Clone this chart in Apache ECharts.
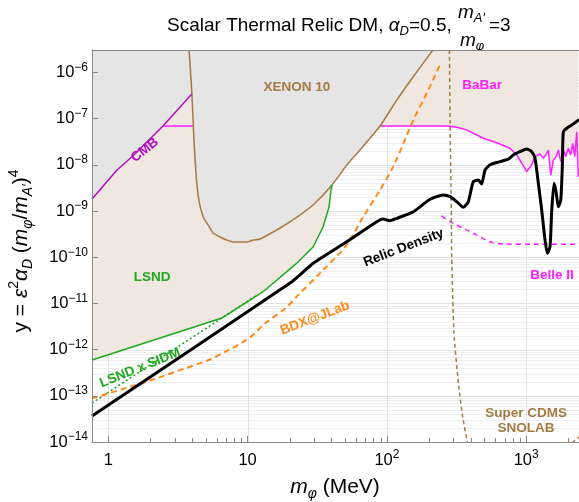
<!DOCTYPE html>
<html>
<head>
<meta charset="utf-8">
<script src="https://cdn.jsdelivr.net/npm/echarts@6/dist/echarts.min.js"></script>
<style>
  html, body { margin: 0; padding: 0; background: #fff; }
  #chart { width: 579px; height: 502px; }
</style>
</head>
<body>
<div id="chart"></div>
<script>
// all curves: [m_phi (MeV), y]
const xenon10 = [[3.8, 3.05e-6], [3.97, 4.16e-7], [4.12, 3.44e-8], [4.26, 6.65e-9], [4.43, 2.0e-9],
  [4.81, 7.4e-10], [5.37, 4.28e-10], [5.65, 3.34e-10], [6.34, 2.73e-10], [7.08, 2.35e-10],
  [7.86, 2.13e-10], [9.9, 2.13e-10], [11.0, 2.35e-10], [12.3, 2.48e-10], [17.1, 4.28e-10],
  [22.6, 7.4e-10], [29.5, 1.35e-9], [40.4, 3.66e-9], [51.7, 1.0e-8], [64.1, 2.09e-8],
  [89.2, 6.9e-8], [118, 2.53e-7], [154, 7.94e-7], [214, 3.05e-6]];
const cmb = [[0.764, 1.82e-9], [1.155, 7.7e-9], [1.5, 1.55e-8], [2.47, 6.9e-8], [3.98, 3.4e-7]];
const lsnd = [[0.764, 5.96e-13], [6.55, 4.83e-12], [8.68, 8.35e-12], [13.1, 1.85e-11], [19.8, 5.3e-11],
  [22.6, 7.48e-11], [29.5, 1.66e-10], [34.8, 4.5e-10], [38.4, 1.22e-9], [39.7, 2.85e-9], [40.4, 3.66e-9]];
const lsndSidm = [[0.764, 6.98e-14], [11.7, 1.52e-11]];
const bdx = [[0.764, 8.83e-14], [1.95, 2.09e-13], [3.57, 3.94e-13], [5.26, 5.96e-13], [6.92, 9.0e-13],
  [10.2, 1.76e-12], [13.4, 3.71e-12], [18.7, 7.83e-12], [22.5, 1.4e-11], [34.9, 5.3e-11],
  [51.4, 1.84e-10], [67.7, 7.54e-10], [89.2, 2.85e-9], [111, 9.1e-9], [155, 9.3e-8],
  [193, 3.53e-7], [240, 1.44e-6]];
const babar = [[2.47, 6.9e-8], [89.2, 6.9e-8], [204, 6.9e-8], [269, 6.9e-8], [317, 6.5e-8], [374, 5.7e-8],
  [492, 3.75e-8], [614, 3.0e-8], [765, 2.28e-8], [855, 1.63e-8], [929, 1.08e-8], [1009, 7.1e-9],
  [1095, 1.0e-8], [1157, 1.5e-8], [1256, 1.71e-8], [1327, 1.38e-8], [1404, 1.77e-8], [1442, 2.09e-8],
  [1500, 6.0e-9], [1566, 1.27e-8], [1638, 1.5e-8], [1700, 2.09e-8], [1770, 1.17e-8], [1847, 2.09e-8],
  [1921, 1.5e-8], [2006, 2.28e-8], [2087, 1.63e-8], [2159, 2.92e-8], [2230, 1.5e-8], [2305, 5.2e-8],
  [2366, 5.5e-9]];
const belle2 = [[247, 7.8e-10], [284, 5.86e-10], [353, 4.23e-10], [441, 3.03e-10], [550, 2.16e-10],
  [685, 1.93e-10], [1065, 1.9e-10], [2393, 1.9e-10]];
const superCdms = [[281, 3.05e-6], [284, 9.3e-8], [289, 2.45e-9], [292, 1.0e-10], [303, 2.29e-12],
  [326, 1.89e-13], [350, 3.47e-14], [378, 1e-14]];
const superCdmsRight = [[2130, 9.5e-15], [2393, 1.28e-14]];
const relic = [[0.764, 3.66e-14], [20.8, 2.95e-11], [29.6, 7.38e-11], [51.5, 2.16e-10], [84.5, 5.86e-10],
  [94.3, 6.7e-10], [105, 6.17e-10], [118, 6.95e-10], [155, 9.66e-10], [204, 1.79e-9], [254, 2.22e-9],
  [284, 2.04e-9], [317, 1.59e-9], [353, 1.2e-9], [384, 1.59e-9], [417, 4.3e-9], [453, 4.69e-9],
  [479, 3.84e-9], [506, 7.7e-9], [550, 1.0e-8], [648, 1.17e-8], [744, 1.32e-8], [807, 1.63e-8],
  [902, 1.92e-8], [1008, 2.2e-8], [1095, 1.92e-8], [1157, 1.38e-8], [1222, 3.98e-9], [1292, 1.05e-9],
  [1365, 2.35e-10], [1419, 1.21e-10], [1483, 1.69e-10], [1525, 1.05e-9], [1584, 3.98e-9],
  [1638, 2.62e-9], [1700, 1.24e-9], [1770, 1.73e-9], [1816, 9.1e-9], [1847, 5.2e-8], [1954, 6.17e-8],
  [2122, 7.26e-8], [2393, 9.5e-8]];

const xTicks = [1, 10, 100, 1000];
const xTickLabels = ['1', '10', '10^2', '10^3'];
const xMinorTicks = [2, 3, 4, 5, 6, 7, 8, 9, 20, 30, 40, 50, 60, 70, 80, 90,
  200, 300, 400, 500, 600, 700, 800, 900, 2000];
const yTickExps = [-14, -13, -12, -11, -10, -9, -8, -7, -6];
const minorMult = [2, 3, 4, 5, 6, 7, 8, 9];

const X_MIN = 0.764, X_MAX = 2393, Y_MIN = 1e-14, Y_MAX = 3.05e-6;
const FONT = 'Liberation Sans, Arial, sans-serif';
const C_BROWN = '#a57a45', C_PURPLE = '#b00fbe', C_MAG = '#ff1eff', C_GREEN = '#1fa81f', C_ORANGE = '#ff8a1c';

const annotations = [
  { text: 'CMB', x: 1.83, y: 2.09e-8, rot: 38, color: C_PURPLE },
  { text: 'XENON 10', x: 22.6, y: 4.83e-7, rot: 0, color: C_BROWN },
  { text: 'BaBar', x: 482, y: 5.33e-7, rot: 0, color: C_MAG },
  { text: 'LSND', x: 2.06, y: 3.72e-11, rot: 0, color: C_GREEN },
  { text: 'LSND x SIDM', x: 1.69, y: 4.0e-13, rot: 22, color: C_GREEN },
  { text: 'BDX@JLab', x: 30.5, y: 4.8e-12, rot: 21, color: C_ORANGE },
  { text: 'Relic Density', x: 132, y: 1.6e-10, rot: 21, color: '#000' },
  { text: 'Belle II', x: 1530, y: 4.12e-11, rot: 0, color: C_MAG },
  { text: 'Super CDMS\nSNOLAB', x: 998, y: 2.85e-14, rot: 0, color: C_BROWN }
];

// fill boundaries built from the curves
const grayEdge = cmb.concat(xenon10.filter(p => p[0] > cmb[cmb.length - 1][0]));
const beigeEdge = lsnd
  .concat(xenon10.filter(p => p[0] > 40.4 && p[0] < 89.2))
  .concat(babar.filter(p => p[0] >= 89.2));

const yMajor = yTickExps.map(e => Math.pow(10, e));
const yMinor = [];
yTickExps.forEach(e => {
  if (e < -6) minorMult.forEach(m => yMinor.push(m * Math.pow(10, e)));
});

function supLabel(s) {
  const parts = s.split('^');
  return parts.length > 1 ? '{b|' + parts[0] + '}{s|' + parts[1] + '}' : '{b|' + s + '}';
}
const tickRich = {
  b: { fontSize: 16.5, fontFamily: FONT, color: '#000', lineHeight: 22 },
  s: { fontSize: 12, fontFamily: FONT, color: '#000', verticalAlign: 'top', lineHeight: 13 }
};

function hGrid(color) {
  return function (params, api) {
    const cs = params.coordSys;
    const p = api.coord([X_MIN, api.value(1)]);
    const y = Math.round(p[1]) + 0.5;
    return { type: 'line', shape: { x1: cs.x, y1: y, x2: cs.x + cs.width, y2: y },
      style: { stroke: color, lineWidth: 1 } };
  };
}
function lineSeries(data, color, width, type, z, smooth) {
  return { type: 'line', data: data, symbol: 'none', silent: true, z: z || 4, smooth: smooth || false,
    lineStyle: { color: color, width: width, type: type || 'solid' } };
}
function areaSeries(data, color, z, smooth) {
  return { type: 'line', data: data, symbol: 'none', silent: true, z: z, smooth: smooth || false,
    lineStyle: { width: 0 }, areaStyle: { color: color, opacity: 1, origin: 'end' } };
}

const titleRich = {
  n: { fontSize: 19, fontFamily: FONT, color: '#000', lineHeight: 24 },
  i: { fontSize: 19, fontFamily: FONT, fontStyle: 'italic', color: '#000', lineHeight: 24 },
  sub: { fontSize: 13, fontFamily: FONT, fontStyle: 'italic', color: '#000', verticalAlign: 'bottom', lineHeight: 14 }
};
const nameRich = {
  n: { fontSize: 21, fontFamily: FONT, color: '#000', lineHeight: 28 },
  i: { fontSize: 21, fontFamily: FONT, fontStyle: 'italic', color: '#000', lineHeight: 28 },
  sup: { fontSize: 14, fontFamily: FONT, color: '#000', verticalAlign: 'top', lineHeight: 15 },
  sub: { fontSize: 14, fontFamily: FONT, fontStyle: 'italic', color: '#000', verticalAlign: 'bottom', lineHeight: 15 }
};

const chart = echarts.init(document.getElementById('chart'));
chart.setOption({
  animation: false,
  backgroundColor: '#fff',
  grid: { left: 92, right: 0, top: 50, bottom: 60 },
  xAxis: [{
    type: 'log', min: X_MIN, max: X_MAX, z: 10,
    axisLine: { lineStyle: { color: '#888', width: 1 } },
    axisTick: { inside: true, length: 6, lineStyle: { color: '#888' } },
    splitLine: { show: false },
    axisLabel: {
      showMinLabel: false, showMaxLabel: false, margin: 7, rich: tickRich,
      formatter: v => {
        const k = xTicks.indexOf(Math.round(v));
        return k >= 0 ? supLabel(xTickLabels[k]) : '';
      }
    }
  }, {
    type: 'log', min: X_MIN, max: X_MAX, position: 'top', z: 10,
    axisLine: { lineStyle: { color: '#888', width: 1 } },
    axisTick: { show: false }, axisLabel: { show: false }, splitLine: { show: false }
  }],
  yAxis: {
    type: 'log', min: Y_MIN, max: Y_MAX, z: 10,
    axisLine: { lineStyle: { color: '#888', width: 1 } },
    axisTick: { inside: true, length: 6, lineStyle: { color: '#888' } },
    splitLine: { show: false },
    axisLabel: {
      showMinLabel: true, showMaxLabel: false, margin: 4, rich: tickRich,
      formatter: v => {
        const e = Math.round(Math.log10(v));
        return yTickExps.indexOf(e) >= 0 ? supLabel('10^−' + (-e)) : '';
      }
    }
  },
  graphic: [
    { type: 'text', x: 167, y: 26, style: { text: '{n|Scalar Thermal Relic DM, }{i|α}{sub|D}{n|=0.5,}', rich: titleRich, align: 'left', verticalAlign: 'middle' } },
    { type: 'text', x: 458, y: 13, style: { text: '{i|m}{sub|A′}', rich: titleRich, align: 'left', verticalAlign: 'middle' } },
    { type: 'text', x: 460, y: 41, style: { text: '{i|m}{sub|φ}', rich: titleRich, align: 'left', verticalAlign: 'middle' } },
    { type: 'text', x: 489, y: 26, style: { text: '{n|=3}', rich: titleRich, align: 'left', verticalAlign: 'middle' } },
    { type: 'text', x: 335, y: 487, style: { text: '{i|m}{sub|φ}{n| (MeV)}', rich: nameRich, align: 'center', verticalAlign: 'middle' } },
    { type: 'text', x: 21, y: 251, rotation: Math.PI / 2,
      style: { text: '{n|y = }{i|ε}{sup|2}{i|α}{sub|D}{n| (}{i|m}{sub|φ}{n|/}{i|m}{sub|A′}{n|)}{sup|4}', rich: nameRich, align: 'center', verticalAlign: 'middle' } }
  ],
  series: [
    { type: 'custom', silent: true, z: 0, data: yMinor.map(v => [X_MIN, v]), renderItem: hGrid('#eeeeee') },
    { type: 'custom', silent: true, z: 0, data: yMajor.map(v => [X_MIN, v]), renderItem: hGrid('#e2e2e2') },
    { type: 'custom', silent: true, z: 0, data: xTicks.map(v => [v, Y_MIN]),
      renderItem: (params, api) => {
        const cs = params.coordSys;
        const x = Math.round(api.coord([api.value(0), Y_MIN])[0]) + 0.5;
        return { type: 'line', shape: { x1: x, y1: cs.y, x2: x, y2: cs.y + cs.height }, style: { stroke: '#e2e2e2', lineWidth: 1 } };
      } },
    areaSeries(beigeEdge, '#f0e7e0', 1),
    lineSeries(babar, C_MAG, 1.5, 'solid', 2),
    areaSeries(grayEdge, '#e5e5e5', 3, 0.2),
    lineSeries(xenon10, C_BROWN, 1.5, 'solid', 4, 0.2),
    lineSeries(cmb, C_PURPLE, 1.5),
    lineSeries(lsnd, C_GREEN, 1.5),
    lineSeries(lsndSidm, C_GREEN, 1.6, [2, 2.5]),
    lineSeries(bdx, C_ORANGE, 2, [6, 4], 4, 0.3),
    lineSeries(belle2, C_MAG, 1.5, [5, 4], 4, 0.3),
    lineSeries(superCdms, C_BROWN, 1.5, [4, 3], 4, 0.2),
    lineSeries(superCdmsRight, C_BROWN, 1.5, [4, 3]),
    lineSeries(relic, '#000', 3, 'solid', 6, 0.2),
    { type: 'custom', silent: true, z: 12, data: xMinorTicks.map(v => [v, Y_MIN]),
      renderItem: (params, api) => {
        const p = api.coord([api.value(0), Y_MIN]);
        const x = Math.round(p[0]) + 0.5;
        return { type: 'line', shape: { x1: x, y1: p[1], x2: x, y2: p[1] - 4 }, style: { stroke: '#888', lineWidth: 1 } };
      } },
    { type: 'custom', silent: true, z: 12, data: annotations.map(a => [a.x, a.y]),
      renderItem: (params, api) => {
        const a = annotations[params.dataIndex];
        const p = api.coord([api.value(0), api.value(1)]);
        return { type: 'text', x: p[0], y: p[1], rotation: a.rot * Math.PI / 180,
          style: { text: a.text, fill: a.color, fontSize: 13.5, fontWeight: 'bold', fontFamily: FONT,
            align: 'center', verticalAlign: 'middle', lineHeight: 15 } };
      } }
  ]
});
</script>
</body>
</html>
